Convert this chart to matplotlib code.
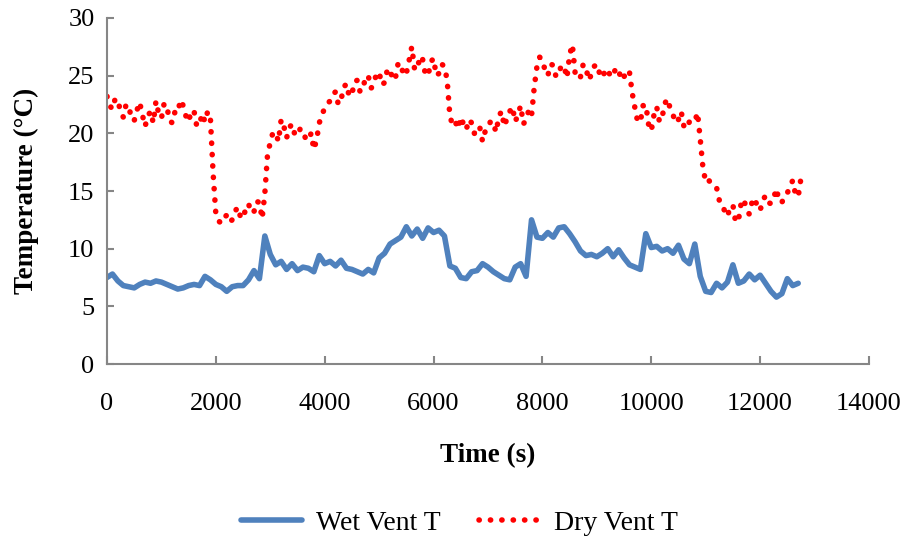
import numpy as np
import matplotlib
matplotlib.use("Agg")
import matplotlib.pyplot as plt

# wet vent readings every 100 s
wet_time = np.arange(0, 12800, 100)
wet_vent = [
    7.5, 7.8, 7.2, 6.8, 6.7, 6.6, 6.9, 7.1, 7.0, 7.2,        # 0
    7.1, 6.9, 6.7, 6.5, 6.6, 6.8, 6.9, 6.8, 7.6, 7.3,        # 1000
    6.9, 6.7, 6.3, 6.7, 6.8, 6.8, 7.3, 8.1, 7.4, 11.1,       # 2000
    9.5, 8.6, 8.9, 8.2, 8.7, 8.1, 8.4, 8.3, 8.0, 9.4,        # 3000
    8.7, 8.9, 8.5, 9.0, 8.3, 8.2, 8.0, 7.8, 8.2, 7.9,        # 4000
    9.2, 9.6, 10.4, 10.7, 11.0, 11.9, 11.1, 11.7, 10.9, 11.8,  # 5000
    11.4, 11.6, 11.1, 8.5, 8.3, 7.5, 7.4, 8.0, 8.1, 8.7,     # 6000
    8.4, 8.0, 7.7, 7.4, 7.3, 8.4, 8.7, 7.6, 12.5, 11.0,      # 7000
    10.9, 11.4, 11.0, 11.8, 11.9, 11.3, 10.6, 9.8, 9.4, 9.5,  # 8000
    9.3, 9.6, 10.0, 9.3, 9.9, 9.2, 8.6, 8.4, 8.2, 11.3,      # 9000
    10.1, 10.2, 9.8, 10.0, 9.6, 10.3, 9.1, 8.7, 10.4, 7.6,   # 10000
    6.3, 6.2, 7.0, 6.6, 7.1, 8.6, 7.0, 7.2, 7.8, 7.3,        # 11000
    7.7, 7.0, 6.3, 5.8, 6.1, 7.4, 6.8, 7.0,                  # 12000
]

# dry vent readings every 50 s
dry_time = np.arange(0, 12800, 50)
dry_vent = [
    23.2, 22.4, 22.1, 23.0, 22.9, 21.8, 21.4, 22.5, 22.4, 21.2,
    21.1, 22.0, 22.7, 21.6, 20.6, 21.5, 21.9, 20.9, 22.8, 21.7,  # 0
    21.3, 22.6, 22.3, 21.1, 20.9, 21.9, 21.8, 22.9, 22.4, 21.5,
    21.0, 22.0, 21.9, 20.6, 20.8, 21.7, 21.0, 21.9, 21.3, 16.5,  # 1000
    13.0, 12.4, 12.2, 12.7, 12.9, 12.3, 12.5, 13.2, 13.6, 12.8,
    12.6, 13.5, 13.9, 13.1, 13.2, 14.1, 14.0, 12.6, 14.8, 18.2,  # 2000
    19.2, 20.1, 20.0, 19.3, 21.2, 20.6, 19.6, 20.5, 20.8, 19.9,
    19.8, 20.4, 20.3, 19.5, 19.4, 20.0, 18.6, 19.4, 20.9, 21.6,  # 3000
    22.2, 22.6, 22.8, 23.4, 23.6, 22.5, 22.9, 24.0, 24.3, 23.2,
    23.4, 24.5, 24.6, 23.6, 23.8, 24.9, 25.0, 23.9, 24.2, 25.2,  # 4000
    25.3, 24.2, 24.4, 25.5, 25.6, 24.6, 24.8, 26.1, 26.0, 25.0,
    25.2, 26.3, 27.5, 25.6, 25.5, 26.7, 26.4, 25.1, 25.0, 26.2,  # 5000
    26.5, 25.0, 25.2, 26.0, 25.8, 24.6, 21.5, 20.7, 21.0, 20.4,
    21.4, 20.8, 20.3, 21.2, 20.9, 20.0, 19.9, 20.5, 19.3, 20.2,  # 6000
    20.4, 21.1, 20.8, 20.1, 21.5, 21.9, 20.6, 21.3, 21.9, 22.3,
    21.0, 21.6, 22.4, 20.8, 21.2, 22.0, 21.5, 24.0, 25.8, 26.6,  # 7000
    26.4, 25.4, 25.0, 26.0, 25.9, 24.9, 25.2, 25.9, 25.8, 24.8,
    26.8, 27.7, 25.3, 24.7, 24.9, 26.0, 25.7, 24.6, 25.1, 25.8,  # 8000
    26.0, 25.2, 24.8, 25.4, 25.6, 24.9, 25.0, 25.7, 25.5, 24.6,
    24.9, 25.5, 25.3, 23.5, 22.2, 21.0, 21.0, 22.4, 22.5, 20.8,  # 9000
    20.2, 21.6, 22.3, 21.0, 21.4, 22.6, 23.0, 22.1, 21.6, 20.9,
    21.2, 21.9, 20.6, 20.4, 21.0, 20.9, 21.0, 21.8, 19.5, 17.0,  # 10000
    15.8, 16.0, 15.6, 15.5, 15.3, 14.2, 14.0, 13.2, 12.8, 13.6,
    13.8, 12.3, 12.4, 13.9, 14.3, 13.4, 13.0, 14.0, 14.4, 13.6,  # 11000
    13.3, 14.2, 14.6, 14.0, 13.9, 14.4, 15.2, 14.1, 14.0, 14.6,
    14.8, 15.5, 15.9, 14.7, 14.5, 16.1,                          # 12000
]

x_ticks = [0, 2000, 4000, 6000, 8000, 10000, 12000, 14000]
y_ticks = [0, 5, 10, 15, 20, 25, 30]

plt.rcParams["font.family"] = ["Liberation Serif", "DejaVu Serif"]
axis_grey = "#868686"

fig = plt.figure(figsize=(9.03, 5.42), dpi=100)
ax = fig.add_axes([0.1185, 0.3284, 0.8438, 0.6384])

ax.plot(wet_time, wet_vent, color="#4F81BD", linewidth=4.0, solid_joinstyle="round",
        solid_capstyle="round", label="Wet Vent T")
ax.plot(dry_time, dry_vent, color="#FF0000", linewidth=4.0, linestyle=(0, (0.05, 2.0)),
        dash_capstyle="round", label="Dry Vent T")

ax.set_xlim(0, 14000)
ax.set_ylim(0, 30)
ax.set_xticks(x_ticks)
ax.set_yticks(y_ticks)

for side in ["top", "right"]:
    ax.spines[side].set_visible(False)
for side in ["left", "bottom"]:
    ax.spines[side].set_color(axis_grey)
    ax.spines[side].set_linewidth(1.5)

ax.tick_params(axis="x", direction="in", length=6, width=1.5, color=axis_grey,
               labelsize=19, pad=21)
ax.tick_params(axis="y", direction="in", length=5, width=1.5, color=axis_grey,
               labelsize=19, pad=9)

ax.set_xlabel("Time (s)", fontsize=19.5, fontweight="bold", labelpad=20)
ax.set_ylabel("Temperature (°C)", fontsize=19.5, fontweight="bold", labelpad=21)

fig.legend(loc="center", bbox_to_anchor=(0.509, 0.035), ncol=2, frameon=False,
           fontsize=20, handlelength=2.2, columnspacing=1.4, handletextpad=0.5)

fig.savefig("out.png", dpi=100)
